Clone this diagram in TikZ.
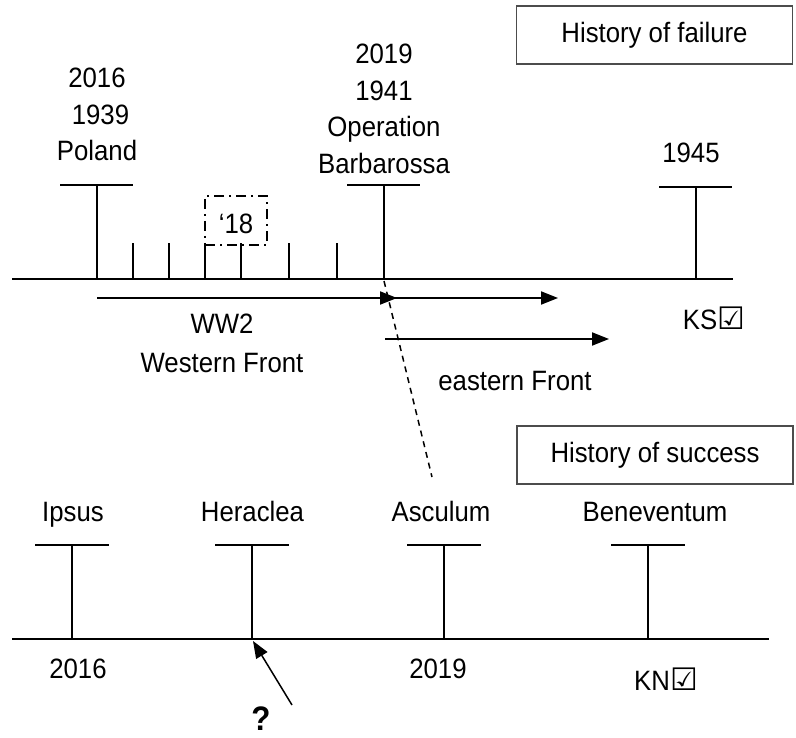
\documentclass[tikz,border=0pt]{standalone}
\usepackage{fontspec}
\setmainfont{Liberation Sans}[FakeStretch=0.92]
\newfontfamily\symfont{DejaVu Sans}
\newcommand{\chkbox}{{\symfont\fontsize{31}{31}\selectfont ☑}}
\usetikzlibrary{arrows.meta}
\begin{document}
\begin{tikzpicture}[x=1pt,y=-1pt,
  tline/.style={line width=1.9pt},
  lbl/.style={font=\fontsize{28}{36.7}\selectfont, inner sep=0pt},
  ml/.style={lbl, align=center},
  titlebox/.style={draw=black!70, line width=1.2pt, minimum width=276pt, minimum height=58pt, inner sep=0pt, font=\fontsize{28}{30}\selectfont},
  arr/.style={line width=1.9pt, -{Triangle[length=17pt,width=13pt]}},
  dashbox/.style={draw, line width=1.9pt, dash pattern=on 10pt off 5pt on 2pt off 5pt, minimum width=62pt, minimum height=49pt, inner sep=0pt, text height=26pt, text depth=0pt, font=\fontsize{28}{30}\selectfont},
  tick/.style={line width=1.9pt},
]
\useasboundingbox (0,0) rectangle (796,738);

% ---------- top timeline ----------
\coordinate (ta) at (12,279);
\coordinate (tb) at (733,279);
\draw[tline] (ta) -- (tb);
% T-bars
\foreach \x/\t in {97/185,384/185,696/187}{
  \draw[tick] (\x,279) -- (\x,\t) (\x-37,\t) -- (\x+36,\t);
}
% small ticks
\foreach \x in {133,169,205,241,289,337}{
  \draw[tick] (\x,279) -- (\x,243);
}
\node[dashbox] (b18) at (236,220.5) {‘18};

\node[ml] (poland) at (97,114.5) {2016\\\hspace*{7pt}1939\\Poland};
\node[ml] (barb) at (384,109) {2019\\1941\\Operation\\Barbarossa};
\node[lbl, anchor=base] (y1945) at (691,163) {1945};
\node[titlebox] (fail) at (654.5,35) {History of failure};

% arrows
\coordinate (w0) at (97,298);
\coordinate (w1) at (397,298);
\coordinate (w2) at (392,298);
\coordinate (w3) at (558,298);
\coordinate (e0) at (385,339);
\coordinate (e1) at (609,339);
\draw[arr] (w0) -- (w1);
\draw[arr] (w2) -- (w3);
\draw[arr] (e0) -- (e1);
\node[ml, font=\fontsize{28}{39}\selectfont] (ww2) at (222,343.5) {WW2\\Western Front};
\node[lbl, anchor=base] (east) at (515,390) {eastern Front};
\node[lbl, anchor=base] (ks) at (714,330) {KS\chkbox};

% dashed link
\coordinate (d0) at (384,281);
\coordinate (d1) at (432,477);
\draw[line width=1.5pt, dash pattern=on 6pt off 5pt] (d0) -- (d1);

% ---------- bottom timeline ----------
\coordinate (ba) at (12,639);
\coordinate (bb) at (769,639);
\draw[tline] (ba) -- (bb);
\foreach \x in {72,252,444,648}{
  \draw[tick] (\x,639) -- (\x,545) (\x-37,545) -- (\x+37,545);
}
\node[lbl, anchor=base] (ipsus) at (73,521.5) {Ipsus};
\node[lbl, anchor=base] (heraclea) at (252.5,521.5) {Heraclea};
\node[lbl, anchor=base] (asculum) at (441,521.5) {Asculum};
\node[lbl, anchor=base] (benev) at (655,521.5) {Beneventum};
\node[titlebox] (succ) at (655,455) {History of success};

\node[lbl, anchor=base] (b2016) at (78,678) {2016};
\node[lbl, anchor=base] (b2019) at (438,678) {2019};
\node[lbl, anchor=base] (kn) at (666,690) {KN\chkbox};

\node[lbl, anchor=base, font=\fontsize{34}{38}\selectfont\bfseries] (q) at (261,730) {?};
\coordinate (qa) at (292,705);
\coordinate (qb) at (253,641);
\draw[line width=1.5pt, -{Triangle[length=17pt,width=13pt]}] (qa) -- (qb);
\end{tikzpicture}
\end{document}
